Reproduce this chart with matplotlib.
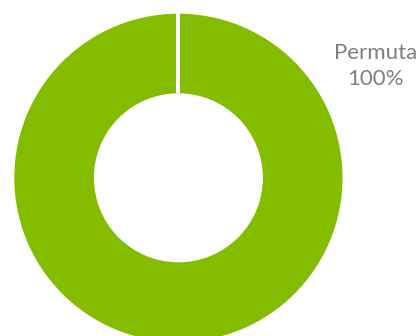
import matplotlib
matplotlib.use("Agg")
import matplotlib.pyplot as plt
import numpy as np

categories = ["Permuta"]
values = [100]
colors = ["#84BC00"]

W, H = 419, 336
fig = plt.figure(figsize=(W / 100, H / 100), dpi=100)
ax = fig.add_axes([0, 0, 1, 1])
ax.axis("off")

R = 164.1
r_in = 84.5
cx, cy = 178.4, 177.8

wedges, _ = ax.pie(values, colors=colors, startangle=90, counterclock=False,
                   radius=1.0, wedgeprops=dict(width=1 - r_in / R, linewidth=0),
                   frame=False)
# white separator at slice boundaries
ang = np.deg2rad(90)
ax.plot([r_in / R * np.cos(ang), 1.02 * np.cos(ang)],
        [r_in / R * np.sin(ang), 1.02 * np.sin(ang)],
        color="white", linewidth=2.9, solid_capstyle="butt")

ax.set_xlim(-cx / R, (W - cx) / R)
ax.set_ylim(-(H - cy) / R, cy / R)
ax.set_aspect("equal")

total = sum(values)
for cat, v in zip(categories, values):
    ax.text((375.5 - cx) / R, (cy - 66) / R, f"{cat}\n{v / total * 100:.0f}%",
            ha="center", va="center", fontsize=16, color="#7F7F7F",
            family=["Lato", "DejaVu Sans"], linespacing=1.4)

fig.savefig("out.png", dpi=100)
